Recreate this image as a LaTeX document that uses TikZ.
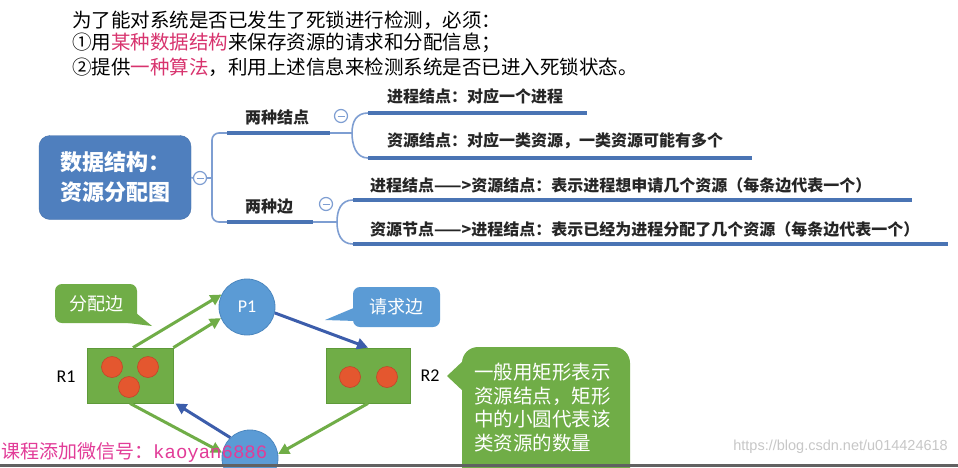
\documentclass[tikz,border=0pt]{standalone}
\usepackage{fontspec}
\newfontfamily\cjk{Noto Sans CJK SC}
\newfontfamily\cali{Carlito}
\newfontfamily\lib{Liberation Sans}
\newfontfamily\mono{Liberation Mono}
\usetikzlibrary{arrows.meta}
\definecolor{mmblue}{HTML}{4F7FBE}
\definecolor{ulblue}{HTML}{4A74B4}
\definecolor{thinblue}{HTML}{7E9ED2}
\definecolor{pinktxt}{HTML}{D8336E}
\definecolor{gr}{HTML}{70AD47}
\definecolor{grdark}{HTML}{5E9A3A}
\definecolor{redc}{HTML}{E4572F}
\definecolor{redd}{HTML}{C2452A}
\definecolor{pblue}{HTML}{5B9BD5}
\definecolor{pbluedark}{HTML}{4C87BF}
\definecolor{reqblue}{HTML}{3C5DAB}
\definecolor{wmpink}{HTML}{E23C98}
\tikzset{
  toptxt/.style={anchor=west,inner sep=0pt,font=\cjk\fontsize{19.5}{24}\selectfont},
  mmtxt/.style={anchor=west,inner sep=0pt,text=black!85,font=\cjk\bfseries\fontsize{16}{20}\selectfont},
  rootbox/.style={fill=mmblue,draw=mmblue!90!black,rounded corners=11pt,minimum width=152pt,minimum height=84pt,text=white,align=left,font=\cjk\bfseries\fontsize{22}{30}\selectfont},
  minusmark/.style={circle,draw=thinblue,fill=white,line width=1.2pt,minimum size=13pt,inner sep=0pt,
    path picture={\draw[thinblue,line width=1pt] ([xshift=-3.5pt]path picture bounding box.center) -- ([xshift=3.5pt]path picture bounding box.center);}},
  thinline/.style={draw=thinblue,line width=1.6pt},
  ulline/.style={draw=ulblue,line width=3.5pt},
  resbox/.style={fill=gr,draw=grdark,line width=0.8pt,minimum height=55pt,inner sep=0pt},
  dot/.style={circle,fill=redc,draw=redd,line width=0.6pt,minimum size=21pt,inner sep=0pt},
  proc/.style={circle,fill=pblue,draw=pbluedark,line width=0.8pt,minimum size=56pt,inner sep=0pt,text=white,font=\cali\fontsize{18}{20}\selectfont},
  rlabel/.style={inner sep=0pt,font=\cali\fontsize{18}{20}\selectfont},
  alloc/.style={draw=gr,line width=3pt,-{Triangle[length=11pt,width=11pt]}},
  request/.style={draw=reqblue,line width=3pt,-{Triangle[length=11pt,width=11pt]}},
  callout/.style={rounded corners=7pt,inner sep=0pt,text=white,font=\cjk\fontsize{18}{22}\selectfont},
}
\begin{document}
\begin{tikzpicture}[x=1pt,y=-1pt]
\useasboundingbox (0,0) rectangle (958,467);
\fill[white] (0,0) rectangle (958,467);

% top text
\node[toptxt] (t1) at (72,20) {为了能对系统是否已发生了死锁进行检测，必须：};
\node[toptxt] (t2) at (72,43) {①用\textcolor{pinktxt}{某种数据结构}来保存资源的请求和分配信息；};
\node[toptxt] (t3) at (72,67) {②提供\textcolor{pinktxt}{一种算法}，利用上述信息来检测系统是否已进入死锁状态。};

% mind map
\node[rootbox] (root) at (115,177.5) {数据结构：\\资源分配图};
\node[minusmark] (m0) at (200,178) {};
\coordinate (br) at (212,178);
\coordinate (k1) at (227,133);
\coordinate (k2) at (227,222);
\coordinate (e1) at (330,133);
\coordinate (e2) at (313,222);
\coordinate (j1) at (352,133);
\coordinate (j2) at (337,222);
\draw[thinline] (root.east) -- (m0.west);
\draw[thinline] (m0.east) -- (br);
\draw[thinline,rounded corners=7pt] (k1) -- (212,133) -- (212,222) -- (k2);
\draw[ulline] (k1) -- (e1);
\draw[ulline] (k2) -- (e2);
\draw[thinline] (e1) -- (j1);
\draw[thinline] (e2) -- (j2);
\node[mmtxt] (n1) at (245,117) {两种结点};
\node[mmtxt] (n2) at (245,206) {两种边};
\node[minusmark] (m1) at (341,116) {};
\node[minusmark] (m2) at (326,204) {};

\coordinate (a1s) at (368,113);
\coordinate (a2s) at (368,158);
\coordinate (a1e) at (587,113);
\coordinate (a2e) at (752,158);
\draw[thinline] (a1s) .. controls (356,113) and (352,122) .. (j1) .. controls (352,145) and (356,158) .. (a2s);
\draw[ulline] (a1s) -- (a1e);
\draw[ulline] (a2s) -- (a2e);
\node[mmtxt] (a1) at (387,96) {进程结点：对应一个进程};
\node[mmtxt] (a2) at (387,141) {资源结点：对应一类资源，一类资源可能有多个};

\coordinate (b1s) at (353,200);
\coordinate (b2s) at (353,244);
\coordinate (b1e) at (912,200);
\coordinate (b2e) at (948,244);
\draw[thinline] (b1s) .. controls (341,200) and (337,210) .. (j2) .. controls (337,234) and (341,244) .. (b2s);
\draw[ulline] (b1s) -- (b1e);
\draw[ulline] (b2s) -- (b2e);
\node[mmtxt] (b1) at (370,185) {进程结点——>资源结点：表示进程想申请几个资源（每条边代表一个）};
\node[mmtxt] (b2) at (370,229) {资源节点——>进程结点：表示已经为进程分配了几个资源（每条边代表一个）};

% callouts
\fill[gr] (130,308) -- (152,326) -- (120,322) -- cycle;
\node[callout,fill=gr,minimum width=82pt,minimum height=39pt] (cfp) at (96,303.5) {分配边};
\fill[pblue] (356,307) -- (325,320) -- (356,321) -- cycle;
\node[callout,fill=pblue,minimum width=87pt,minimum height=40pt] (crq) at (396.5,307) {请求边};
\fill[gr] (464,360) -- (447,376) -- (464,392) -- cycle;
\fill[gr,rounded corners=16pt] (462,347) rectangle (630,490);
\node[anchor=north west,inner sep=0pt,text=white,align=left,font=\cjk\fontsize{19.5}{23.5}\selectfont] (cbig) at (474,363) {一般用矩形表示\\资源结点，矩形\\中的小圆代表该\\类资源的数量};

% resource graph
\node[resbox,minimum width=86pt] (R1) at (130,375.5) {};
\node[resbox,minimum width=84pt] (R2) at (368,375.5) {};
\node[dot] (d1) at (112,367) {};
\node[dot] (d2) at (148,367) {};
\node[dot] (d3) at (129,387) {};
\node[dot] (d4) at (350,377) {};
\node[dot] (d5) at (387,377) {};
\node[rlabel] (l1) at (66,377) {R1};
\node[rlabel] (l2) at (430,376) {R2};
\node[proc] (P1) at (247,307) {P1};
\node[proc] (P2) at (250,458) {};

\draw[alloc] ([xshift=3pt]R1.north) -- (P1.154);
\draw[alloc] (R1.north east) -- (P1.203);
\draw[request] (P1.-12) -- (R2.north);
\draw[alloc] (R2.south) -- (P2.8);
\draw[request] (P2.134) -- ([xshift=2pt]R1.south east);
\draw[alloc] (R1.south) -- (P2.169);

% watermarks
\node[anchor=west,inner sep=0pt,text=wmpink,font=\fontsize{19}{22}\selectfont] (wm) at (1,452) {{\cjk 课程添加微信号：}{\mono kaoyan6886}};
\node[anchor=east,inner sep=0pt,text=black!22,font=\lib\fontsize{14.5}{16}\selectfont] (wm2) at (948,447) {https://blog.csdn.net/u014424618};

% bottom bar
\fill[black!62] (0,464) rectangle (958,467);
\end{tikzpicture}
\end{document}
